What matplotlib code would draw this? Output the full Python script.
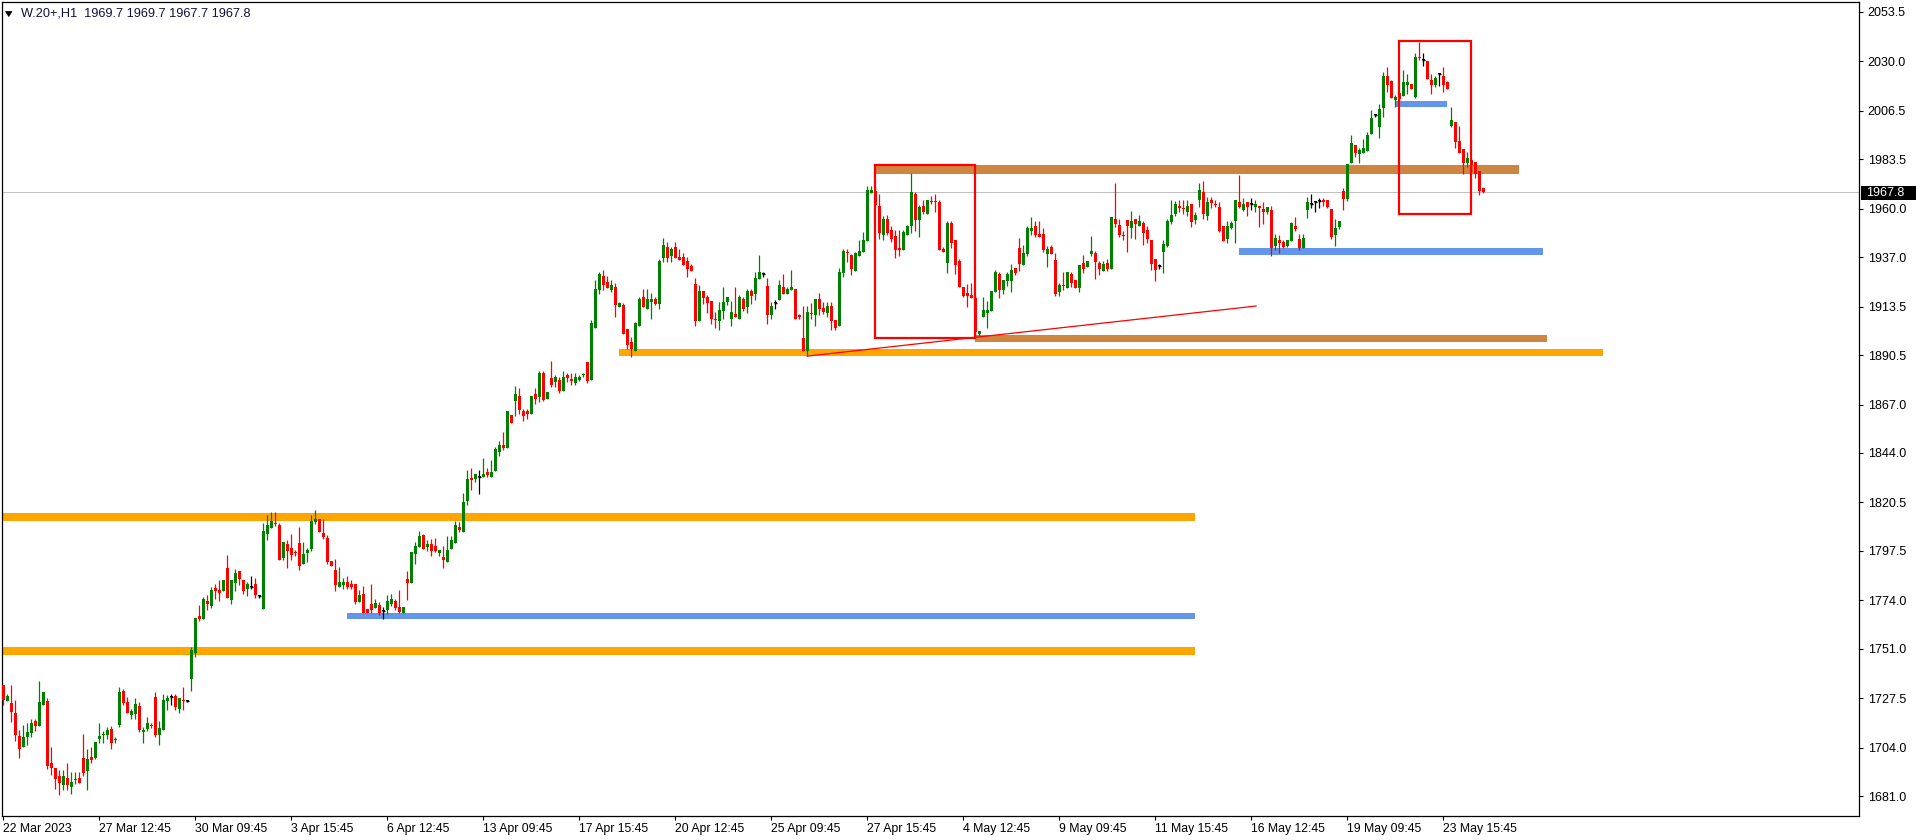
import matplotlib
matplotlib.use("Agg")
import matplotlib.pyplot as plt
from matplotlib.patches import Rectangle, Polygon

plt.rcParams['font.family'] = ['Liberation Sans', 'DejaVu Sans']

W, H, DPI = 1916, 840, 100

opens = [
1733.8, 1726.3, 1725.4, 1720.3, 1709.5, 1704.5, 1708.9, 1711.1, 1716.6, 1714.4,
1724.4, 1726.2, 1696.6, 1694.3, 1690.5, 1686.4, 1689.4, 1685.5, 1688.5, 1689.6,
1699.1, 1693.1, 1699.6, 1699.2, 1708.3, 1710.0, 1710.0, 1712.9, 1707.6, 1714.7,
1730.9, 1725.8, 1719.4, 1719.8, 1723.8, 1711.3, 1712.9, 1714.8, 1727.9, 1710.0,
1712.4, 1726.3, 1728.2, 1728.5, 1722.2, 1726.6, 1726.3, 1736.6, 1749.1, 1766.5,
1765.3, 1773.6, 1771.3, 1779.8, 1778.9, 1778.4, 1789.3, 1774.1, 1782.4, 1787.9,
1783.6, 1779.5, 1780.5, 1781.7, 1776.0, 1769.9, 1805.5, 1808.3, 1810.9, 1809.8,
1794.1, 1800.7, 1798.8, 1797.0, 1801.1, 1791.2, 1796.3, 1798.4, 1811.2, 1812.6,
1806.0, 1803.6, 1792.7, 1788.4, 1780.5, 1781.3, 1782.7, 1781.7, 1781.7, 1773.2,
1777.0, 1769.9, 1772.2, 1770.3, 1771.8, 1768.9, 1769.4, 1772.2, 1773.7, 1770.8,
1768.0, 1784.1, 1782.2, 1796.0, 1799.3, 1805.0, 1799.3, 1800.7, 1799.8, 1796.5,
1794.6, 1792.2, 1798.4, 1801.2, 1808.8, 1806.4, 1821.2, 1832.1, 1831.6, 1832.4,
1832.6, 1834.9, 1832.6, 1835.4, 1844.4, 1847.8, 1846.2, 1862.1, 1868.7, 1871.1,
1864.0, 1864.0, 1862.5, 1872.0, 1870.6, 1882.0, 1869.7, 1879.6, 1877.7, 1878.7,
1873.5, 1881.1, 1879.2, 1877.3, 1878.7, 1880.8, 1887.2, 1878.7, 1903.4, 1921.4,
1928.1, 1925.2, 1921.4, 1922.9, 1913.4, 1914.3, 1902.9, 1896.7, 1892.5, 1904.3,
1918.1, 1912.4, 1915.7, 1917.2, 1914.8, 1936.6, 1941.9, 1937.6, 1941.9, 1937.1,
1937.1, 1935.2, 1932.8, 1924.3, 1906.7, 1921.0, 1918.1, 1916.2, 1907.5, 1906.7,
1911.5, 1915.7, 1907.7, 1910.0, 1907.7, 1917.2, 1913.4, 1921.0, 1919.5, 1926.6,
1929.0, 1923.3, 1909.5, 1915.2, 1916.6, 1922.8, 1919.5, 1921.4, 1921.9, 1909.3,
1898.6, 1892.4, 1910.2, 1909.5, 1917.1, 1912.8, 1910.5, 1913.8, 1907.1, 1904.3,
1929.5, 1939.2, 1938.0, 1930.4, 1937.5, 1939.4, 1944.7, 1967.5, 1968.5, 1961.3,
1947.5, 1955.1, 1949.9, 1947.0, 1941.3, 1940.4, 1947.5, 1951.8, 1967.0, 1954.6,
1961.3, 1957.5, 1963.9, 1963.4, 1963.2, 1940.9, 1934.2, 1953.2, 1945.1, 1935.2,
1922.8, 1920.0, 1919.0, 1917.5, 1900.5, 1908.6, 1910.5, 1911.4, 1920.4, 1929.0,
1921.4, 1925.7, 1925.7, 1931.8, 1941.3, 1933.3, 1938.5, 1949.4, 1951.8, 1948.0,
1948.0, 1938.5, 1941.8, 1935.7, 1920.4, 1924.0, 1922.3, 1929.0, 1926.1, 1922.3,
1934.2, 1932.3, 1938.5, 1939.0, 1934.2, 1930.4, 1934.2, 1931.4, 1955.1, 1952.3,
1947.3, 1954.6, 1950.8, 1955.1, 1951.8, 1953.2, 1949.9, 1945.1, 1936.1, 1932.8,
1939.4, 1942.3, 1953.7, 1957.5, 1961.1, 1960.2, 1958.4, 1962.2, 1954.6, 1964.1,
1967.9, 1956.5, 1964.1, 1962.4, 1960.8, 1951.8, 1945.6, 1950.8, 1954.2, 1963.2,
1959.4, 1963.2, 1962.2, 1960.8, 1961.3, 1959.9, 1958.4, 1959.4, 1942.3, 1945.1,
1944.2, 1942.3, 1944.7, 1951.8, 1945.6, 1941.3, 1959.4, 1962.2, 1963.2, 1963.7,
1964.1, 1964.1, 1959.9, 1947.5, 1951.3, 1968.4, 1964.6, 1981.7, 1990.3, 1986.0,
1986.5, 1987.4, 1995.5, 2004.5, 1998.8, 2007.8, 2023.0, 2020.7, 2011.6, 2015.0,
2013.5, 2018.8, 2019.2, 2013.1, 2032.3, 2030.6, 2030.2, 2021.1, 2018.8, 2024.0,
2023.0, 2020.2, 1999.3, 2001.2, 1992.2, 1988.4, 1981.7, 1983.1, 1982.2, 1977.9, 1969.7]

highs = [
1733.8, 1729.5, 1733.8, 1726.6, 1712.4, 1714.7, 1715.6, 1717.4, 1717.4, 1735.7,
1730.4, 1727.4, 1704.5, 1694.3, 1693.4, 1693.4, 1696.6, 1692.4, 1692.4, 1692.4,
1710.5, 1703.5, 1704.5, 1706.7, 1715.7, 1712.1, 1713.8, 1714.3, 1708.9, 1732.8,
1731.9, 1728.2, 1722.2, 1727.4, 1725.9, 1714.0, 1718.6, 1715.9, 1730.4, 1716.5,
1729.5, 1728.9, 1729.5, 1729.5, 1727.4, 1732.8, 1726.5, 1751.6, 1765.6, 1771.8,
1775.7, 1776.4, 1780.2, 1781.7, 1783.6, 1783.6, 1795.5, 1783.6, 1788.9, 1787.9,
1783.6, 1782.7, 1785.5, 1784.6, 1776.0, 1810.6, 1814.4, 1816.0, 1816.0, 1810.6,
1801.7, 1802.6, 1805.5, 1797.9, 1808.8, 1801.7, 1798.8, 1814.5, 1816.9, 1812.6,
1812.6, 1805.0, 1792.7, 1793.6, 1789.8, 1784.6, 1785.5, 1783.6, 1781.7, 1778.9,
1780.8, 1769.9, 1781.7, 1774.6, 1773.2, 1770.8, 1776.5, 1777.0, 1774.6, 1778.9,
1770.8, 1787.9, 1796.9, 1801.7, 1806.9, 1805.5, 1802.6, 1803.1, 1803.6, 1797.9,
1799.8, 1804.5, 1804.5, 1811.7, 1811.2, 1825.0, 1835.9, 1836.8, 1834.0, 1835.9,
1841.6, 1836.8, 1840.7, 1846.8, 1849.7, 1853.9, 1864.0, 1862.1, 1875.8, 1874.9,
1864.9, 1864.9, 1871.1, 1874.9, 1883.0, 1883.0, 1873.0, 1887.7, 1881.1, 1880.1,
1883.0, 1882.0, 1882.0, 1882.0, 1881.1, 1882.0, 1887.2, 1907.2, 1926.2, 1930.0,
1930.9, 1928.1, 1926.2, 1924.8, 1915.7, 1915.3, 1902.9, 1899.1, 1906.2, 1918.1,
1921.9, 1921.9, 1920.0, 1918.1, 1936.2, 1946.1, 1944.2, 1941.9, 1944.2, 1940.9,
1939.0, 1937.1, 1933.8, 1927.1, 1923.8, 1921.0, 1919.1, 1916.2, 1911.0, 1915.7,
1922.9, 1918.1, 1916.2, 1922.9, 1919.1, 1918.1, 1921.9, 1921.9, 1929.9, 1938.0,
1929.9, 1927.1, 1915.7, 1916.6, 1926.1, 1929.0, 1922.8, 1930.9, 1921.9, 1910.0,
1913.8, 1913.8, 1915.2, 1917.1, 1920.0, 1915.7, 1915.7, 1915.7, 1907.1, 1931.8,
1940.9, 1940.9, 1938.5, 1939.4, 1945.1, 1948.9, 1970.8, 1970.8, 1971.0, 1967.0,
1956.5, 1957.0, 1951.8, 1949.9, 1949.9, 1949.9, 1952.3, 1977.0, 1967.9, 1961.8,
1964.1, 1964.1, 1966.0, 1967.0, 1964.1, 1941.8, 1954.2, 1954.2, 1945.1, 1936.1,
1922.8, 1924.2, 1924.7, 1918.5, 1901.9, 1918.1, 1916.2, 1920.9, 1930.9, 1929.9,
1926.1, 1929.9, 1933.7, 1931.8, 1946.1, 1942.8, 1951.8, 1956.1, 1954.2, 1954.2,
1950.8, 1942.3, 1942.8, 1939.0, 1924.7, 1929.9, 1929.9, 1929.9, 1926.1, 1933.3,
1938.0, 1935.2, 1947.0, 1939.9, 1935.2, 1935.2, 1936.1, 1956.1, 1972.2, 1955.1,
1949.4, 1954.6, 1958.9, 1955.1, 1957.0, 1954.2, 1951.8, 1945.1, 1936.1, 1933.7,
1945.1, 1955.1, 1964.1, 1963.7, 1964.1, 1964.1, 1964.1, 1962.2, 1958.4, 1972.2,
1973.2, 1965.6, 1965.6, 1964.1, 1963.2, 1951.8, 1954.2, 1954.2, 1964.1, 1976.0,
1965.1, 1963.2, 1965.1, 1964.1, 1961.3, 1963.2, 1960.8, 1961.3, 1948.0, 1947.5,
1945.1, 1945.1, 1953.7, 1956.1, 1948.0, 1948.0, 1965.6, 1967.0, 1963.2, 1965.1,
1965.1, 1964.1, 1959.9, 1955.1, 1954.2, 1969.8, 1981.2, 1995.0, 1990.3, 1988.8,
1993.1, 1996.4, 2006.9, 2005.0, 2009.7, 2024.9, 2027.3, 2021.1, 2014.0, 2015.0,
2025.9, 2024.0, 2019.2, 2034.0, 2039.2, 2034.0, 2030.2, 2024.0, 2023.0, 2024.0,
2027.3, 2020.7, 2008.3, 2001.2, 1999.3, 1988.4, 1986.9, 1983.1, 1982.2, 1977.9, 1969.7]

lows = [
1724.3, 1726.3, 1716.3, 1707.3, 1699.2, 1704.5, 1705.3, 1709.2, 1712.1, 1714.4,
1724.4, 1694.0, 1691.2, 1684.2, 1681.3, 1683.9, 1683.9, 1681.9, 1686.7, 1687.4,
1690.5, 1683.9, 1696.6, 1698.4, 1706.4, 1706.4, 1708.0, 1703.2, 1706.4, 1713.6,
1724.3, 1720.2, 1717.4, 1717.4, 1711.3, 1706.4, 1712.1, 1713.5, 1709.2, 1705.3,
1712.4, 1721.9, 1724.3, 1721.9, 1720.3, 1721.9, 1725.5, 1730.9, 1747.2, 1764.3,
1765.3, 1769.4, 1770.3, 1774.5, 1773.5, 1778.4, 1775.3, 1772.3, 1778.4, 1781.4,
1777.0, 1776.0, 1779.5, 1775.3, 1775.3, 1769.9, 1802.6, 1808.3, 1809.3, 1793.1,
1793.1, 1789.4, 1793.1, 1795.0, 1788.4, 1791.2, 1792.2, 1797.4, 1810.2, 1806.4,
1803.1, 1791.2, 1790.3, 1778.4, 1780.5, 1779.5, 1779.5, 1779.5, 1772.2, 1773.2,
1768.0, 1768.0, 1768.0, 1770.3, 1767.0, 1765.1, 1767.5, 1771.3, 1769.4, 1768.0,
1768.0, 1774.1, 1782.2, 1791.2, 1799.3, 1798.4, 1797.4, 1795.0, 1796.9, 1795.0,
1789.4, 1792.2, 1798.4, 1801.2, 1806.4, 1806.4, 1819.3, 1826.4, 1830.2, 1824.5,
1832.6, 1832.6, 1832.6, 1835.4, 1842.6, 1845.4, 1846.2, 1858.3, 1861.6, 1862.5,
1859.2, 1860.2, 1862.5, 1867.3, 1868.2, 1868.7, 1869.7, 1875.4, 1875.4, 1872.5,
1873.5, 1877.7, 1876.3, 1876.3, 1878.2, 1880.1, 1877.3, 1878.7, 1903.4, 1919.5,
1921.4, 1922.4, 1920.5, 1908.6, 1913.4, 1900.5, 1893.4, 1889.6, 1892.5, 1904.3,
1913.4, 1912.4, 1907.7, 1914.3, 1912.4, 1934.7, 1934.7, 1934.7, 1936.6, 1935.7,
1933.3, 1927.6, 1930.5, 1904.3, 1906.7, 1914.8, 1910.5, 1905.3, 1903.4, 1902.4,
1907.7, 1914.3, 1904.3, 1908.6, 1907.7, 1911.5, 1910.5, 1914.8, 1916.6, 1926.6,
1927.6, 1905.2, 1907.6, 1912.4, 1916.6, 1919.5, 1919.5, 1921.4, 1907.6, 1907.6,
1892.4, 1890.0, 1907.6, 1904.3, 1909.5, 1910.0, 1908.6, 1902.4, 1902.4, 1904.3,
1927.6, 1934.7, 1928.5, 1930.4, 1937.5, 1939.4, 1944.7, 1967.5, 1961.0, 1945.6,
1945.1, 1947.5, 1944.2, 1936.6, 1937.5, 1940.4, 1947.5, 1948.5, 1949.4, 1946.6,
1957.5, 1957.5, 1962.2, 1958.4, 1940.4, 1939.4, 1929.5, 1941.3, 1929.0, 1922.8,
1918.1, 1913.3, 1917.6, 1899.0, 1899.5, 1908.6, 1903.3, 1911.4, 1920.4, 1917.6,
1919.5, 1923.3, 1920.4, 1928.5, 1930.4, 1933.3, 1937.5, 1947.5, 1946.6, 1946.6,
1939.4, 1932.3, 1938.5, 1918.5, 1918.5, 1921.4, 1922.3, 1922.8, 1922.3, 1920.4,
1929.5, 1932.3, 1937.5, 1926.6, 1928.5, 1930.4, 1930.4, 1931.4, 1951.3, 1946.6,
1945.1, 1939.4, 1946.1, 1945.6, 1951.8, 1942.8, 1943.7, 1930.9, 1925.7, 1931.4,
1929.5, 1941.8, 1952.7, 1956.5, 1958.4, 1957.5, 1956.5, 1951.3, 1952.7, 1960.8,
1955.1, 1954.6, 1960.3, 1960.8, 1948.9, 1944.7, 1943.7, 1950.4, 1943.7, 1960.3,
1958.9, 1956.5, 1959.4, 1958.4, 1951.3, 1952.7, 1957.5, 1937.5, 1940.4, 1939.0,
1941.3, 1941.8, 1944.7, 1949.4, 1940.4, 1941.3, 1955.6, 1960.3, 1958.4, 1960.3,
1961.3, 1960.3, 1945.6, 1942.3, 1950.4, 1959.4, 1963.7, 1981.7, 1984.6, 1981.7,
1986.5, 1987.4, 1995.5, 2003.6, 1993.6, 2003.6, 2015.4, 2012.6, 2008.3, 2011.6,
2013.5, 2014.5, 2016.9, 2012.6, 2030.6, 2027.8, 2021.6, 2014.5, 2017.8, 2018.3,
2015.4, 2016.9, 1998.8, 1988.8, 1986.5, 1976.5, 1979.8, 1976.5, 1974.6, 1966.5, 1967.7]

closes = [
1726.6, 1728.5, 1721.1, 1710.0, 1703.5, 1708.8, 1711.3, 1715.7, 1714.3, 1725.7,
1730.4, 1695.3, 1694.3, 1689.3, 1687.4, 1690.5, 1686.3, 1687.7, 1688.8, 1687.4,
1691.8, 1698.4, 1698.1, 1706.7, 1709.5, 1710.5, 1712.5, 1706.4, 1707.8, 1730.4,
1725.4, 1720.2, 1721.6, 1724.7, 1712.5, 1712.5, 1715.6, 1714.4, 1710.0, 1713.2,
1726.6, 1727.6, 1728.2, 1723.5, 1727.4, 1726.1, 1726.3, 1750.4, 1765.6, 1765.0,
1774.6, 1772.2, 1778.9, 1778.4, 1777.6, 1783.6, 1775.3, 1783.6, 1787.0, 1784.3,
1778.4, 1781.7, 1780.5, 1776.7, 1776.0, 1806.9, 1809.8, 1811.7, 1810.3, 1793.1,
1801.7, 1797.4, 1795.5, 1796.4, 1790.3, 1796.0, 1797.9, 1811.8, 1812.6, 1806.4,
1804.1, 1792.2, 1790.3, 1781.3, 1782.7, 1782.7, 1780.5, 1780.5, 1773.2, 1776.5,
1768.0, 1768.0, 1769.4, 1772.7, 1768.0, 1768.9, 1773.7, 1774.6, 1770.3, 1768.4,
1770.8, 1782.2, 1796.9, 1799.8, 1804.5, 1798.4, 1800.7, 1797.4, 1797.4, 1797.9,
1793.1, 1797.9, 1802.6, 1809.8, 1807.4, 1820.7, 1831.6, 1831.2, 1834.0, 1832.4,
1834.0, 1833.5, 1834.9, 1845.9, 1847.8, 1846.3, 1864.0, 1858.3, 1872.0, 1864.4,
1861.6, 1862.5, 1871.1, 1869.7, 1882.0, 1869.2, 1873.0, 1876.3, 1880.1, 1873.5,
1880.1, 1879.6, 1878.2, 1880.1, 1880.1, 1881.1, 1878.2, 1905.8, 1921.9, 1929.0,
1923.8, 1922.4, 1923.8, 1914.3, 1915.3, 1900.5, 1895.3, 1893.4, 1905.8, 1917.2,
1913.4, 1917.2, 1917.2, 1914.8, 1935.2, 1942.8, 1936.6, 1940.9, 1936.6, 1935.7,
1933.3, 1931.4, 1930.5, 1906.7, 1921.0, 1917.6, 1915.3, 1907.7, 1907.0, 1911.9,
1915.7, 1918.1, 1911.0, 1908.6, 1918.1, 1912.4, 1921.0, 1918.6, 1927.1, 1929.9,
1929.0, 1909.5, 1913.8, 1915.2, 1923.8, 1919.5, 1921.9, 1922.8, 1907.6, 1908.8,
1892.4, 1910.9, 1909.8, 1917.1, 1912.4, 1910.9, 1913.8, 1906.7, 1903.3, 1929.9,
1939.9, 1938.8, 1931.4, 1939.0, 1939.9, 1945.1, 1968.9, 1968.9, 1962.0, 1948.5,
1955.1, 1948.5, 1945.6, 1940.4, 1940.4, 1948.9, 1951.8, 1967.9, 1954.6, 1960.8,
1958.4, 1964.1, 1963.4, 1963.0, 1940.4, 1939.4, 1953.2, 1943.7, 1933.3, 1922.8,
1918.5, 1918.5, 1917.6, 1901.5, 1901.9, 1911.9, 1911.9, 1920.9, 1929.9, 1921.4,
1926.1, 1929.0, 1930.9, 1929.5, 1933.7, 1939.0, 1950.8, 1950.8, 1947.5, 1946.6,
1940.4, 1940.9, 1938.5, 1919.5, 1923.8, 1923.5, 1929.9, 1924.7, 1922.3, 1933.3,
1931.4, 1935.2, 1939.9, 1934.7, 1931.4, 1933.7, 1931.4, 1956.1, 1952.7, 1947.5,
1946.9, 1951.8, 1954.2, 1952.7, 1954.2, 1948.5, 1945.6, 1933.7, 1930.9, 1932.8,
1943.2, 1954.2, 1957.0, 1962.2, 1960.6, 1959.7, 1961.3, 1953.7, 1957.0, 1968.9,
1957.5, 1963.2, 1962.7, 1962.0, 1949.4, 1944.7, 1951.8, 1953.2, 1964.1, 1960.8,
1962.2, 1960.8, 1962.2, 1962.2, 1960.3, 1958.4, 1960.8, 1941.3, 1946.1, 1943.7,
1941.8, 1945.1, 1953.2, 1950.4, 1941.3, 1946.1, 1963.2, 1962.2, 1963.2, 1963.7,
1963.2, 1960.8, 1946.6, 1950.8, 1954.2, 1964.6, 1981.2, 1991.2, 1986.5, 1987.9,
1988.8, 1995.0, 2003.1, 2004.5, 2007.4, 2023.0, 2018.8, 2012.6, 2013.1, 2012.1,
2020.2, 2020.2, 2016.9, 2032.1, 2031.8, 2030.6, 2021.6, 2018.8, 2022.1, 2024.0,
2018.8, 2016.9, 2002.1, 1991.7, 1986.5, 1981.7, 1984.1, 1980.8, 1976.5, 1968.4, 1967.8]

x_tick_bars = [0, 24, 48, 72, 96, 120, 144, 168, 192, 216, 240, 264, 288, 312, 336, 360]
x_tick_labels = ["22 Mar 2023", "27 Mar 12:45", "30 Mar 09:45", "3 Apr 15:45",
                 "6 Apr 12:45", "13 Apr 09:45", "17 Apr 15:45", "20 Apr 12:45",
                 "25 Apr 09:45", "27 Apr 15:45", "4 May 12:45", "9 May 09:45",
                 "11 May 15:45", "16 May 12:45", "19 May 09:45", "23 May 15:45"]
y_ticks = [2053.5, 2030.0, 2006.5, 1983.5, 1960.0, 1937.0, 1913.5, 1890.5, 1867.0,
           1844.0, 1820.5, 1797.5, 1774.0, 1751.0, 1727.5, 1704.0, 1681.0]
last_price = 1967.8
title_text = "W.20+,H1  1969.7 1969.7 1967.7 1967.8"

# horizontal zones: start bar, end bar, low, high, colour
zone_start = [-0.25, -0.25, 85.9, 153.9, 242.9, 218.2, 308.9, 348.2]
zone_end = [297.9, 297.9, 297.9, 399.9, 385.9, 378.9, 384.9, 360.9]
zone_low = [1811.8, 1748.2, 1765.1, 1890.1, 1896.9, 1976.5, 1938.0, 2008.3]
zone_high = [1815.6, 1751.9, 1768.0, 1893.4, 1900.0, 1980.8, 1941.2, 2011.2]
zone_color = ['#FFA500', '#FFA500', '#6495ED', '#FFA500', '#CD853F', '#CD853F', '#6495ED', '#6495ED']

# rectangles: start bar, end bar, low, high
box_start = [217.9, 348.9]
box_end = [242.9, 366.9]
box_low = [1898.5, 1957.4]
box_high = [1980.8, 2039.7]

trend_x = [201, 313.2]
trend_y = [1890.0, 1913.8]

fig = plt.figure(figsize=(W / DPI, H / DPI), dpi=DPI)
fig.patch.set_facecolor('white')
L, R, T, B = 2.3, 1859.3, 2.3, 816.0
ax = fig.add_axes([L / W, 1 - B / H, (R - L) / W, (B - T) / H])
ax.set_xlim(-0.25, 464)
ax.set_ylim(1671.5, 2058.1)
for s in ax.spines.values():
    s.set_linewidth(0.9)
    s.set_color('black')

px = 0.72  # one pixel in points

# zones
for x0, x1, lo, hi, c in zip(zone_start, zone_end, zone_low, zone_high, zone_color):
    ax.add_patch(Rectangle((x0, lo), x1 - x0, hi - lo, facecolor=c, edgecolor='none', zorder=1))

ax.axhline(last_price, color='#C0C0C0', lw=px, zorder=2)

# candles
xs = list(range(len(closes)))
cols, bottoms, heights, dx, dy = [], [], [], [], []
for i, (o, h, l, c) in enumerate(zip(opens, highs, lows, closes)):
    if c > o:
        col = '#008000'
    elif c < o:
        col = '#FF0000'
    else:
        col = '#000000'
    cols.append(col)
    lo_b, hi_b = min(o, c), max(o, c)
    bottoms.append(lo_b)
    heights.append(max(hi_b - lo_b, 0.5))
    if c == o:
        dx.append(i)
        dy.append(o)
wick_lo = [min(l, o, c) for o, l, c in zip(opens, lows, closes)]
wick_hi = [max(h, o, c) for o, h, c in zip(opens, highs, closes)]
ax.vlines(xs, wick_lo, wick_hi, colors=cols, linewidth=0.9, zorder=3)
ax.bar(xs, heights, bottom=bottoms, width=0.75, color=cols, linewidth=0, zorder=3)
if dx:
    ax.hlines(dy, [v - 0.4 for v in dx], [v + 0.4 for v in dx], colors='black', linewidth=1.0, zorder=3)

# trend line
ax.plot(trend_x, trend_y, color='#FF0000', lw=0.9, zorder=4)

# boxes
for x0, x1, lo, hi in zip(box_start, box_end, box_low, box_high):
    ax.add_patch(Rectangle((x0, lo), x1 - x0, hi - lo, fill=False, edgecolor='#FF0000',
                           linewidth=1.6, zorder=5))

# axes ticks
ax.yaxis.tick_right()
ax.set_yticks(y_ticks)
ax.set_yticklabels([f"{v:.1f}" for v in y_ticks])
ax.tick_params(axis='y', which='both', left=False, right=True, labelleft=False, labelright=True,
               direction='out', length=2.6, width=0.8, pad=3.5, labelsize=9, colors='black')
ax.set_xticks(x_tick_bars)
ax.set_xticklabels(x_tick_labels, ha='left')
ax.tick_params(axis='x', direction='out', length=3.2, width=0.8, pad=1.5, labelsize=8.8, colors='black')

# current price label
fig.patches.append(Rectangle((1860.7 / W, 1 - 199.8 / H), (W - 1860.7) / W, 14.2 / H,
                             transform=fig.transFigure, facecolor='black', edgecolor='none'))
fig.text(1866.3 / W, 1 - 192.6 / H, f"{last_price:.1f}", color='white', fontsize=9,
         ha='left', va='center')

# title
fig.patches.append(Polygon([(5.5 / W, 1 - 11.5 / H), (12 / W, 1 - 11.5 / H), (8.75 / W, 1 - 16.5 / H)],
                           closed=True, transform=fig.transFigure, facecolor='black', edgecolor='black', lw=0.5))
fig.text(20.7 / W, 1 - 13.5 / H, title_text, color='#10103c', fontsize=9.2, ha='left', va='center')

fig.savefig("out.png", dpi=DPI, facecolor='white')
